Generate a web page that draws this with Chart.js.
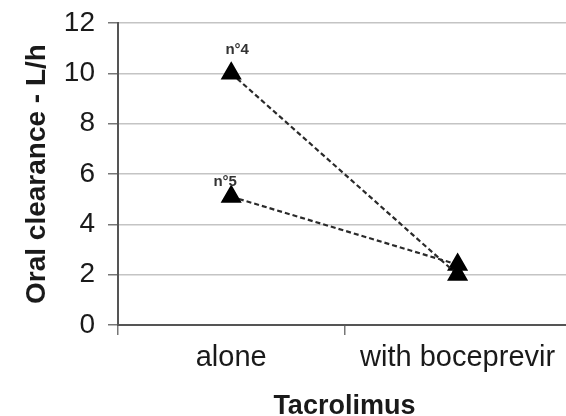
<!DOCTYPE html>
<html>
<head>
<meta charset="utf-8">
<script src="https://cdn.jsdelivr.net/npm/chart.js@4"></script>
<style>
  html, body { margin: 0; padding: 0; background: #fff; overflow: hidden; }
  #chart { display: block; }
</style>
</head>
<body>
<canvas id="chart" width="583" height="416"></canvas>
<script>
// clearance data per patient
const categories = ['alone', 'with boceprevir'];
const patient4 = [10, 2.0];
const patient5 = [5.1, 2.4];
const patientLabels = ['n°4', 'n°5'];
const yTicks = [0, 2, 4, 6, 8, 10, 12];

const FONT = '"Liberation Sans", Arial, sans-serif';

// writes the patient number above the first point of each series
const pointTags = {
  id: 'pointTags',
  afterDatasetsDraw(chart) {
    const ctx = chart.ctx;
    ctx.save();
    ctx.font = 'bold 15px ' + FONT;
    ctx.fillStyle = '#333';
    ctx.textAlign = 'center';
    ctx.textBaseline = 'alphabetic';
    chart.data.datasets.forEach((ds, i) => {
      const pt = chart.getDatasetMeta(i).data[0];
      const dx = i === 1 ? -6 : 6;
      const dy = i === 1 ? 11 : 19;
      ctx.fillText(patientLabels[i], pt.x + dx, pt.y - dy);
    });
    ctx.restore();
  }
};

function series(values) {
  return {
    data: values,
    borderColor: '#2a2a2a',
    borderWidth: 2.2,
    borderDash: [5, 3],
    pointStyle: 'triangle',
    pointRadius: 10,
    pointBackgroundColor: '#000',
    pointBorderColor: '#000',
    tension: 0
  };
}

new Chart(document.getElementById('chart'), {
  type: 'line',
  data: {
    labels: categories,
    datasets: [series(patient4), series(patient5)]
  },
  options: {
    responsive: false,
    animation: false,
    layout: { padding: { top: 23, left: 0, right: 0, bottom: 0 } },
    plugins: { legend: { display: false }, tooltip: { enabled: false } },
    scales: {
      x: {
        offset: true,
        afterFit(axis) { axis.height = 91; },
        grid: { offset: true, drawOnChartArea: false, tickLength: 10, color: '#777', lineWidth: 1.5 },
        border: { color: '#555', width: 2 },
        ticks: { color: '#1a1a1a', font: { family: FONT, size: 29, lineHeight: 1 }, padding: 8, maxRotation: 0 },
        title: { display: true, text: 'Tacrolimus', color: '#1a1a1a', font: { family: FONT, size: 27, weight: 'bold', lineHeight: 1 }, padding: { top: 0, bottom: -4 } }
      },
      y: {
        min: 0,
        max: 12,
        afterBuildTicks(axis) { axis.ticks = yTicks.map(v => ({ value: v })); },
        afterFit(axis) { axis.width = 118; },
        grid: { color: '#c4c4c4', lineWidth: 1.5, tickLength: 10, tickColor: '#777' },
        border: { color: '#555', width: 2 },
        ticks: { color: '#1a1a1a', font: { family: FONT, size: 28, lineHeight: 0.6 }, padding: 13 },
        title: { display: true, text: 'Oral clearance - L/h', color: '#1a1a1a', font: { family: FONT, size: 28, weight: 'bold', lineHeight: 1 }, padding: { top: 23, bottom: 0 } }
      }
    }
  },
  plugins: [pointTags]
});
</script>
</body>
</html>
